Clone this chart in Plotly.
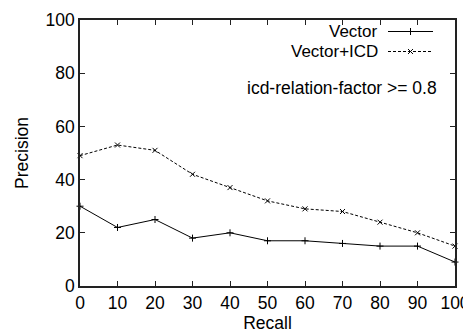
import plotly.graph_objects as go

recall = [0, 10, 20, 30, 40, 50, 60, 70, 80, 90, 100]
vector = [30, 22, 25, 18, 20, 17, 17, 16, 15, 15, 9]
vector_icd = [49, 53, 51, 42, 37, 32, 29, 28, 24, 20, 15]
x_ticks = [0, 10, 20, 30, 40, 50, 60, 70, 80, 90, 100]
y_ticks = [0, 20, 40, 60, 80, 100]
series_names = ["Vector", "Vector+ICD"]
note = "icd-relation-factor >= 0.8"

FONT = "Liberation Sans, Arial, Helvetica, sans-serif"
FS = 17.5
OFF = 8  # page body margin
W, H = 471 - OFF, 336 - OFF
L, R, T, B = 80 - OFF, 16, 20 - OFF, 50

fig = go.Figure()
fig.add_trace(go.Scatter(
    x=recall, y=vector, mode="lines+markers", name=series_names[0],
    line=dict(color="black", width=1),
    marker=dict(symbol="cross-thin-open", size=5, color="black", line=dict(width=1, color="black")),
    showlegend=False, cliponaxis=False))
fig.add_trace(go.Scatter(
    x=recall, y=vector_icd, mode="lines+markers", name=series_names[1],
    line=dict(color="black", width=1, dash="3px,2px"),
    marker=dict(symbol="x-thin-open", size=5, color="black", line=dict(width=1, color="black")),
    showlegend=False, cliponaxis=False))

# legend samples drawn on an overlay axis, positions given in screen pixels
pw, ph = W - L - R, H - T - B
def px2x(px):
    return (px - OFF - L) / pw
def px2y(py):
    return 1 - (py - OFF - T) / ph

leg_y = [31.5, 51.5]
for i, (nm, sym, dash) in enumerate([(series_names[0], "cross-thin-open", "solid"),
                                       (series_names[1], "x-thin-open", "3px,2px")]):
    fig.add_trace(go.Scatter(
        x=[px2x(388), px2x(433)], y=[px2y(leg_y[i])] * 2, mode="lines",
        line=dict(color="black", width=1, dash=dash), xaxis="x2", yaxis="y2",
        showlegend=False, hoverinfo="skip"))
    fig.add_trace(go.Scatter(
        x=[px2x(410.5)], y=[px2y(leg_y[i])], mode="markers",
        marker=dict(symbol=sym, size=5, color="black", line=dict(width=1, color="black")),
        xaxis="x2", yaxis="y2", showlegend=False, hoverinfo="skip"))
    fig.add_annotation(x=px2x(379), y=px2y(leg_y[i]), xref="x2", yref="y2",
                       text=nm, showarrow=False, xanchor="right", yanchor="middle",
                       borderpad=0,
                       font=dict(family=FONT, size=17, color="black"))

fig.add_annotation(x=px2x(439), y=px2y(88), xref="x2", yref="y2",
                   text=note, showarrow=False, xanchor="right", yanchor="middle",
                   font=dict(family=FONT, size=FS, color="black"))

axis_common = dict(showgrid=False, zeroline=False, showline=True, linecolor="#222222",
                   linewidth=1.5, mirror="ticks", ticks="inside", ticklen=5,
                   tickcolor="#222222", tickwidth=1, automargin=False,
                   tickfont=dict(family=FONT, size=FS, color="black"))
fig.update_layout(
    width=W, height=H,
    margin=dict(l=L, r=R, t=T, b=B),
    paper_bgcolor="white", plot_bgcolor="white",
    font=dict(family=FONT, size=FS, color="black"),
    xaxis=dict(range=[0, 100], tickvals=x_ticks, ticktext=[str(v) for v in x_ticks],
               title=dict(text="Recall", standoff=4, font=dict(family=FONT, size=FS)),
               **axis_common),
    yaxis=dict(range=[0, 100], tickvals=y_ticks, ticktext=[str(v) for v in y_ticks],
               title=dict(text="Precision", standoff=12, font=dict(family=FONT, size=FS)),
               **axis_common),
    xaxis2=dict(range=[0, 1], overlaying="x", visible=False, fixedrange=True),
    yaxis2=dict(range=[0, 1], overlaying="y", visible=False, fixedrange=True),
)

fig.write_html("out.html")
